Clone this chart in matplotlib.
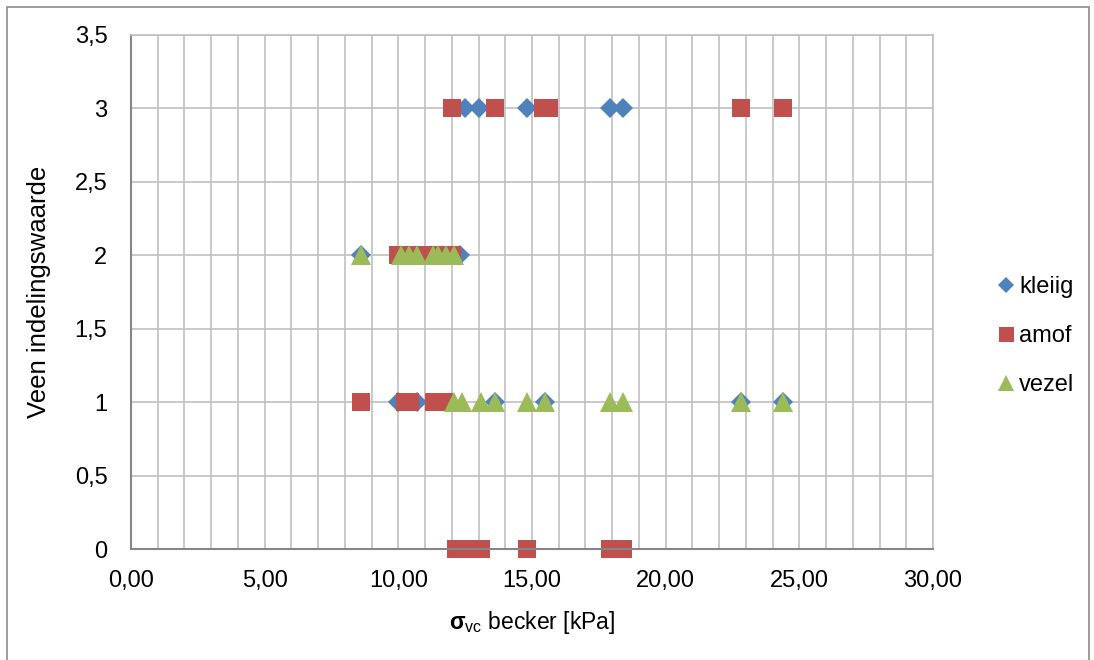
import matplotlib
matplotlib.use("Agg")
from matplotlib import pyplot as plt
from matplotlib.patches import Rectangle
from matplotlib.ticker import MultipleLocator, FixedLocator

plt.rcParams["font.family"] = ["Liberation Sans", "DejaVu Sans"]
plt.rcParams["mathtext.fontset"] = "custom"
plt.rcParams["mathtext.rm"] = "Liberation Sans"
plt.rcParams["mathtext.bf"] = "Liberation Sans:bold"

# data: sigma_vc becker [kPa] vs veen indelingswaarde
kleiig_x = [12.5, 13.0, 14.8, 17.9, 18.4,
            8.6, 12.3,
            10.0, 10.7, 13.6, 15.5, 22.8, 24.4]
kleiig_y = [3, 3, 3, 3, 3,
            2, 2,
            1, 1, 1, 1, 1, 1]

amof_x = [12.0, 13.6, 15.4, 15.65, 22.8, 24.4,
          10.0, 10.4, 10.8, 11.3, 11.7, 12.0,
          8.6, 10.25, 10.45, 11.35, 11.7,
          12.15, 12.5, 13.1, 14.8, 17.9, 18.4]
amof_y = [3, 3, 3, 3, 3, 3,
          2, 2, 2, 2, 2, 2,
          1, 1, 1, 1, 1,
          0, 0, 0, 0, 0, 0]

vezel_x = [8.6, 10.1, 10.4, 10.7, 11.3, 11.5, 11.8, 12.1,
           12.1, 12.4, 13.1, 13.6, 14.8, 15.5, 17.9, 18.4, 22.8, 24.4]
vezel_y = [2, 2, 2, 2, 2, 2, 2, 2,
           1, 1, 1, 1, 1, 1, 1, 1, 1, 1]

x_ticks = [0, 5, 10, 15, 20, 25, 30]
y_ticks = [0, 0.5, 1, 1.5, 2, 2.5, 3, 3.5]


def fmt_x(v):
    return f"{v:.2f}".replace(".", ",")


def fmt_y(v):
    return (f"{v:g}").replace(".", ",")


fig = plt.figure(figsize=(10.94, 6.6), dpi=100)
fig.patches.append(Rectangle((7 / 1094, -0.05), 1082 / 1094, 1.05 - 7 / 660,
                             transform=fig.transFigure, fill=False,
                             edgecolor="#8c8c8c", linewidth=1.2))
ax = fig.add_axes([131 / 1094, 111 / 660, 802 / 1094, 514 / 660])

ax.plot(kleiig_x, kleiig_y, linestyle="none", marker="D", markersize=10,
        color="#4F81BD", markeredgewidth=0, label="kleiig", clip_on=False)
ax.plot(amof_x, amof_y, linestyle="none", marker="s", markersize=13.5,
        color="#C0504D", markeredgewidth=0, label="amof", clip_on=False)
ax.plot(vezel_x, vezel_y, linestyle="none", marker="^", markersize=14,
        color="#9BBB59", markeredgewidth=0, label="vezel", clip_on=False)

ax.set_xlim(0, 30)
ax.set_ylim(0, 3.5)
ax.xaxis.set_major_locator(FixedLocator(x_ticks))
ax.xaxis.set_minor_locator(MultipleLocator(1))
ax.yaxis.set_major_locator(FixedLocator(y_ticks))
ax.set_xticklabels([fmt_x(v) for v in x_ticks])
ax.set_yticklabels([fmt_y(v) for v in y_ticks])
ax.tick_params(which="both", length=0, labelsize=17, colors="#000000")
ax.tick_params(axis="x", pad=15)
ax.tick_params(axis="y", pad=17)

ax.grid(True, which="both", axis="x", color="#c0c0c0", linewidth=1.2)
ax.grid(True, which="major", axis="y", color="#c0c0c0", linewidth=1.2)
ax.set_axisbelow(True)

for side in ["left", "bottom"]:
    ax.spines[side].set_color("#868686")
    ax.spines[side].set_linewidth(1.5)
for side in ["top", "right"]:
    ax.spines[side].set_color("#c0c0c0")
    ax.spines[side].set_linewidth(1.2)

ax.set_xlabel(r"$\mathbf{σ}_{\mathrm{vc}}$ becker [kPa]", fontsize=16.5, labelpad=12)
ax.set_ylabel("Veen indelingswaarde", fontsize=18.5, labelpad=17)

ax.legend(loc="center left", bbox_to_anchor=(993 / 1094, 1 - 336 / 660),
          bbox_transform=fig.transFigure, frameon=False, fontsize=17,
          handletextpad=0.0, labelspacing=1.15, handlelength=1.1,
          markerscale=0.8, borderpad=0.0, borderaxespad=0.0)

fig.savefig("out.png", dpi=100)
